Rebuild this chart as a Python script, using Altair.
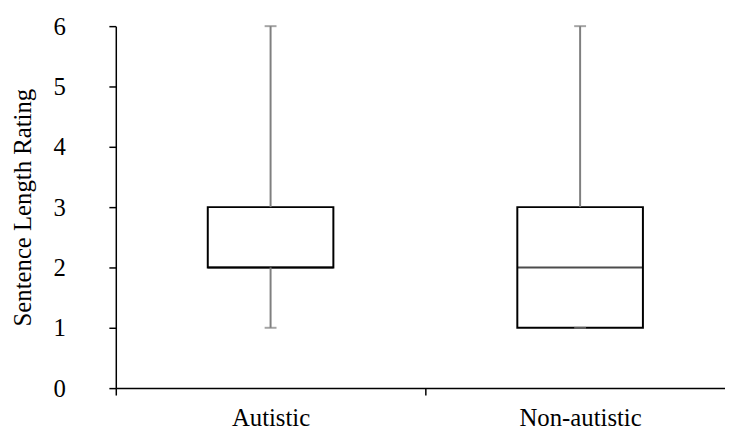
import altair as alt
import pandas as pd

categories = ["Autistic", "Non-autistic"]
mins = [1, 1]
q1s = [2, 1]
medians = [2, 2]
q3s = [3, 3]
maxs = [6, 6]

df = pd.DataFrame({
    "category": categories,
    "min": mins,
    "q1": q1s,
    "median": medians,
    "q3": q3s,
    "max": maxs,
})

FONT = "'Liberation Serif', 'Times New Roman', Times, serif"

x = alt.X(
    "category:N",
    sort=categories,
    scale=alt.Scale(range=[0, 626], paddingInner=0, paddingOuter=0),
    axis=alt.Axis(
        title=None,
        labelAngle=0,
        tickBand="extent",
        labelPadding=11,
        tickSize=7,
    ),
)
y_scale = alt.Scale(domain=[0, 6], nice=False, zero=True)
y_axis = alt.Axis(
    title="Sentence Length Rating",
    values=[0, 1, 2, 3, 4, 5, 6],
    format="d",
    grid=False,
    labelPadding=44,
    tickSize=7,
    titlePadding=18,
)

base = alt.Chart(df)

box = base.mark_bar(size=127, fill="white", stroke="black", strokeWidth=2).encode(
    x=x,
    y=alt.Y("q1:Q", scale=y_scale, axis=y_axis),
    y2="q3:Q",
)
median = base.mark_tick(size=127, thickness=2, color="black").encode(
    x=x, y=alt.Y("median:Q", scale=y_scale)
)
lower = base.mark_rule(color="#7f7f7f", strokeWidth=2).encode(
    x=x, y=alt.Y("min:Q", scale=y_scale), y2="q1:Q"
)
upper = base.mark_rule(color="#7f7f7f", strokeWidth=2).encode(
    x=x, y=alt.Y("q3:Q", scale=y_scale), y2="max:Q"
)
cap_low = base.mark_tick(size=12, thickness=2, color="#7f7f7f").encode(
    x=x, y=alt.Y("min:Q", scale=y_scale)
)
cap_high = base.mark_tick(size=12, thickness=2, color="#7f7f7f").encode(
    x=x, y=alt.Y("max:Q", scale=y_scale)
)

chart = (
    alt.layer(box, median, lower, upper, cap_low, cap_high)
    .properties(
        width=616,
        height=366,
        autosize=alt.AutoSizeParams(type="none"),
        padding={"left": 109, "top": 16, "right": 0, "bottom": 40},
    )
    .configure_view(stroke=None)
    .configure_axis(
        labelFont=FONT,
        titleFont=FONT,
        labelFontSize=25,
        titleFontSize=25,
        titleFontWeight="normal",
        labelColor="black",
        titleColor="black",
        domainColor="black",
        domainWidth=1.5,
        tickColor="black",
        tickWidth=1.5,
    )
)

chart.save("out.html", embed_options={"renderer": "svg", "actions": False})
